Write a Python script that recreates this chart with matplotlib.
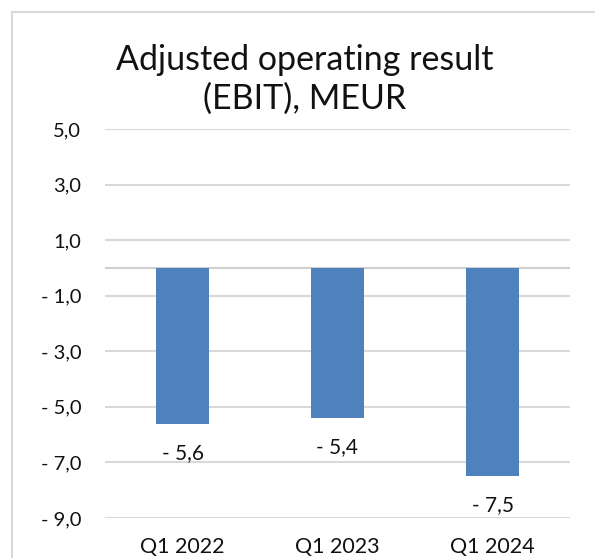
import matplotlib.pyplot as plt
from matplotlib.patches import Rectangle

categories = ["Q1 2022", "Q1 2023", "Q1 2024"]
values = [-5.6, -5.4, -7.5]
yticks = [5, 3, 1, -1, -3, -5, -7, -9]


def fmt(v):
    s = f"{abs(v):.1f}".replace(".", ",")
    return f"- {s}" if v < 0 else s


plt.rcParams['font.family'] = ['Lato', 'DejaVu Sans']

fig = plt.figure(figsize=(5.95, 5.58), dpi=100)
ax = fig.add_axes([105 / 595, 1 - 518 / 558, 465 / 595, 389 / 558])

# outer chart border
fig.patches.append(Rectangle((12 / 595, -0.1), 1.2, 1 - 12 / 558 + 0.1,
                             transform=fig.transFigure, fill=False,
                             edgecolor="#d9d9d9", linewidth=1.5))

x = list(range(len(categories)))
ax.bar(x, values, width=0.34, color="#4f81bd", zorder=3)
for xi, v in zip(x, values):
    ax.annotate(fmt(v), (xi, v), xytext=(0, -21), textcoords="offset points",
                ha="center", va="center", fontsize=15, color="#111111")

ax.set_xlim(-0.5, 2.5)
ax.set_ylim(-9, 5)
ax.set_yticks(yticks)
ax.set_yticklabels([fmt(t) for t in yticks], fontsize=14.5, color="#111111")
ax.set_xticks(x)
ax.set_xticklabels(categories, fontsize=15.5, color="#111111")
ax.tick_params(axis="y", length=0, pad=17)
ax.tick_params(axis="x", length=0, pad=14)
ax.grid(axis="y", color="#d9d9d9", linewidth=1.5, zorder=0)
ax.axhline(0, color="#d0d0d0", linewidth=1.5, zorder=2)
for s in ax.spines.values():
    s.set_visible(False)

fig.text(305 / 595, 1 - 79 / 558, "Adjusted operating result\n(EBIT), MEUR",
         ha="center", va="center", fontsize=24.5, linespacing=1.25, color="#111111")

fig.savefig("out.png", dpi=100)
